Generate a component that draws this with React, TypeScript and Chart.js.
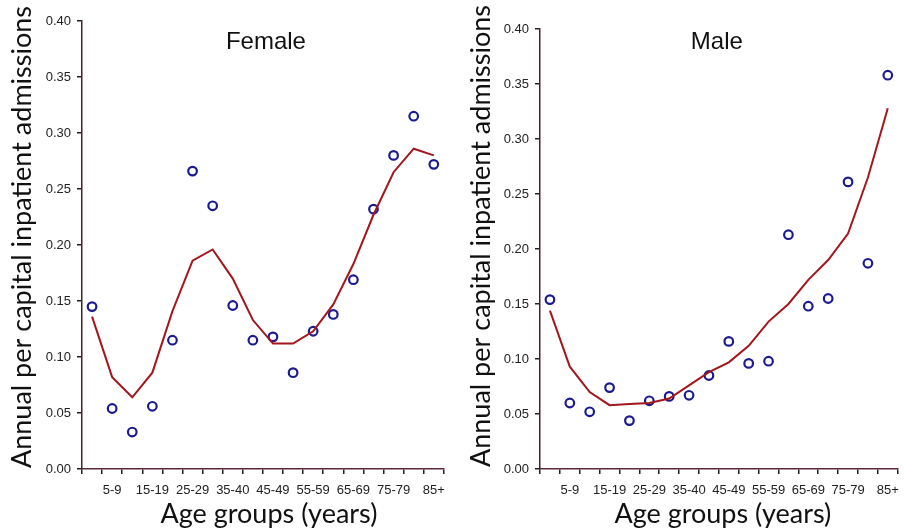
import React, { useEffect, useRef } from "react";
import { Chart, registerables } from "chart.js";

Chart.register(...registerables);

const ageGroups = [
  "0-4", "5-9", "10-14", "15-19", "20-24", "25-29", "30-34", "35-40", "40-44",
  "45-49", "50-54", "55-59", "60-64", "65-69", "70-74", "75-79", "80-84", "85+",
];

const femaleObserved = [
  0.145, 0.054, 0.033, 0.056, 0.115, 0.266, 0.235, 0.146, 0.115,
  0.118, 0.086, 0.123, 0.138, 0.169, 0.232, 0.280, 0.315, 0.272,
];
const femaleTrend = [
  0.136, 0.082, 0.064, 0.086, 0.141, 0.186, 0.196, 0.170, 0.133,
  0.112, 0.112, 0.123, 0.147, 0.183, 0.227, 0.265, 0.286, 0.280,
];

const maleObserved = [
  0.154, 0.060, 0.052, 0.074, 0.044, 0.062, 0.066, 0.067, 0.085,
  0.116, 0.096, 0.098, 0.213, 0.148, 0.155, 0.261, 0.187, 0.358,
];
const maleTrend = [
  0.144, 0.093, 0.070, 0.058, 0.059, 0.060, 0.064, 0.076, 0.088,
  0.097, 0.112, 0.134, 0.150, 0.172, 0.190, 0.214, 0.265, 0.328,
];

const yTitle = "Annual per capital inpatient admissions";
const xTitle = "Age groups (years)";

type PanelProps = {
  title: string;
  observed: number[];
  trend: number[];
  left: number;
  yWidth: number;
  padTop: number;
  padRight: number;
  yTitleX: number;
  yTitleY: number;
  titleDx: number;
  xTitleDx: number;
};

function Panel(p: PanelProps) {
  const ref = useRef<HTMLCanvasElement | null>(null);
  useEffect(() => {
    if (!ref.current) return;
    const texts = {
      id: "panelTexts",
      afterDraw(chart: any) {
        const { ctx, chartArea } = chart;
        const cx = (chartArea.left + chartArea.right) / 2;
        ctx.save();
        ctx.fillStyle = "#111";
        ctx.textAlign = "center";
        ctx.textBaseline = "middle";
        ctx.font = "24px 'Liberation Sans', Arial, sans-serif";
        ctx.fillText(p.title, cx + p.titleDx, 42);
        ctx.font = "27px Lato, 'Open Sans', sans-serif";
        ctx.fillText(xTitle, cx + p.xTitleDx, 514);
        ctx.translate(p.yTitleX, p.yTitleY);
        ctx.rotate(-Math.PI / 2);
        ctx.fillText(yTitle, 0, 0);
        ctx.restore();
      },
    };
    const chart = new Chart(ref.current, {
      type: "line",
      data: {
        labels: ageGroups,
        datasets: [
          {
            label: "Trend",
            data: p.trend,
            borderColor: "#a3161b",
            borderWidth: 2,
            pointRadius: 0,
            tension: 0,
            fill: false,
          },
          {
            label: "Observed",
            data: p.observed,
            showLine: false,
            pointRadius: 4.3,
            pointBorderWidth: 2.2,
            pointBorderColor: "#1b1b8f",
            pointBackgroundColor: "#ffffff",
          },
        ],
      },
      options: {
        responsive: false,
        animation: false,
        layout: { padding: { left: 0, top: p.padTop, right: p.padRight, bottom: 0 } },
        plugins: { legend: { display: false }, tooltip: { enabled: false } },
        scales: {
          x: {
            type: "category",
            offset: true,
            afterFit(scale: any) {
              scale.height = 532 - 469;
            },
            grid: {
              offset: true,
              drawOnChartArea: false,
              drawTicks: true,
              tickLength: 5,
              color: "#222",
              lineWidth: 1.5,
            },
            border: { color: "#5a2a3a", width: 1.5 },
            ticks: {
              autoSkip: false,
              maxRotation: 0,
              minRotation: 0,
              padding: 9,
              color: "#222",
              font: { family: "'Liberation Sans', Arial, sans-serif", size: 13 },
              callback: (_v: any, i: number) => (i % 2 === 1 ? ageGroups[i] : ""),
            },
          },
          y: {
            min: 0,
            max: 0.4,
            afterFit(scale: any) {
              scale.width = p.yWidth;
            },
            grid: {
              drawOnChartArea: false,
              drawTicks: true,
              tickLength: 5,
              color: "#222",
              lineWidth: 1.5,
            },
            border: { color: "#4a1e2a", width: 1.5 },
            ticks: {
              stepSize: 0.05,
              padding: 6,
              color: "#222",
              font: { family: "'Liberation Sans', Arial, sans-serif", size: 13 },
              callback: (v: any) => Number(v).toFixed(2),
            },
          },
        },
      },
      plugins: [texts],
    });
    return () => chart.destroy();
  }, []);
  return (
    <canvas
      ref={ref}
      width={454}
      height={532}
      style={{ position: "absolute", left: p.left, top: 0, width: 454, height: 532 }}
    />
  );
}

export default function App() {
  return (
    <div
      style={{
        position: "fixed",
        left: 0,
        top: 0,
        width: 908,
        height: 532,
        background: "#ffffff",
        overflow: "hidden",
      }}
    >
      <Panel
        title="Female"
        observed={femaleObserved}
        trend={femaleTrend}
        left={0}
        yWidth={82}
        padTop={21}
        padRight={6}
        yTitleX={22}
        yTitleY={237}
        titleDx={3}
        xTitleDx={6}
      />
      <Panel
        title="Male"
        observed={maleObserved}
        trend={maleTrend}
        left={454}
        yWidth={86}
        padTop={29}
        padRight={5}
        yTitleX={27}
        yTitleY={236}
        titleDx={-2}
        xTitleDx={4}
      />
    </div>
  );
}
